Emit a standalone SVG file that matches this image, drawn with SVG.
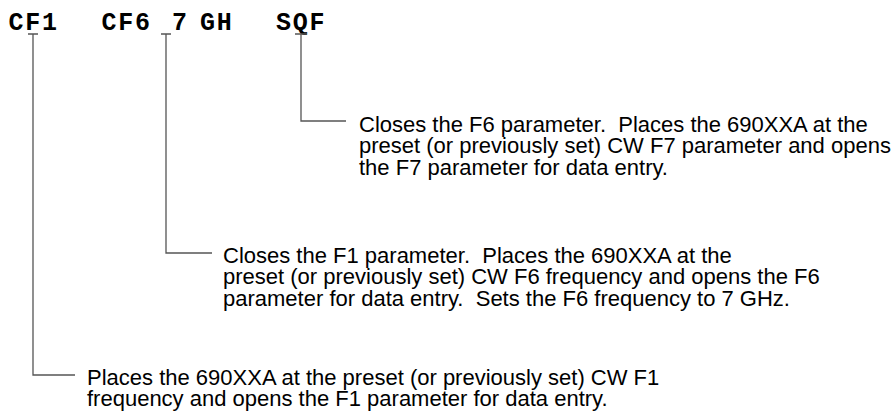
<svg xmlns="http://www.w3.org/2000/svg" width="893" height="417" viewBox="0 0 893 417" xml:space="preserve">
<style>
.cmd{font-family:"Liberation Mono","Courier New",monospace;font-weight:bold;font-size:25px;letter-spacing:1.8px;fill:#000}
.desc{font-family:"Liberation Sans",Arial,Helvetica,sans-serif;font-size:22px;fill:#000;white-space:pre}
.conn{fill:none;stroke:#555;stroke-width:1.3}
</style>
<rect width="893" height="417" fill="#fff"/>
<g id="commands">
<g id="cmd-CF1"><text class="cmd" x="8.5" y="29.5">CF1</text></g>
<g id="cmd-CF6"><text class="cmd" x="101.5" y="29.5">CF6</text></g>
<g id="cmd-7"><text class="cmd" x="172" y="29.5">7</text></g>
<g id="cmd-GH"><text class="cmd" x="200" y="29.5">GH</text></g>
<g id="cmd-SQF"><text class="cmd" x="276" y="29.5">SQF</text></g>
</g>
<g id="connectors">
<path class="conn" d="M28 34H38M33 34V375H75"/>
<path class="conn" d="M161 34H171M166 34V253H212"/>
<path class="conn" d="M295 34H307M301 34V121H346"/>
</g>
<g id="desc-SQF">
<text class="desc" x="359" y="131.5">Closes the F6 parameter.  Places the 690XXA at the</text>
<text class="desc" x="359" y="153.3">preset (or previously set) CW F7 parameter and opens</text>
<text class="desc" x="359" y="175">the F7 parameter for data entry.</text>
</g>
<g id="desc-CF6-7">
<text class="desc" x="223" y="262.5">Closes the F1 parameter.  Places the 690XXA at the</text>
<text class="desc" x="223" y="284.3">preset (or previously set) CW F6 frequency and opens the F6</text>
<text class="desc" x="223" y="306">parameter for data entry.  Sets the F6 frequency to 7 GHz.</text>
</g>
<g id="desc-CF1">
<text class="desc" x="87" y="384.5">Places the 690XXA at the preset (or previously set) CW F1</text>
<text class="desc" x="87" y="406.3">frequency and opens the F1 parameter for data entry.</text>
</g>
</svg>
